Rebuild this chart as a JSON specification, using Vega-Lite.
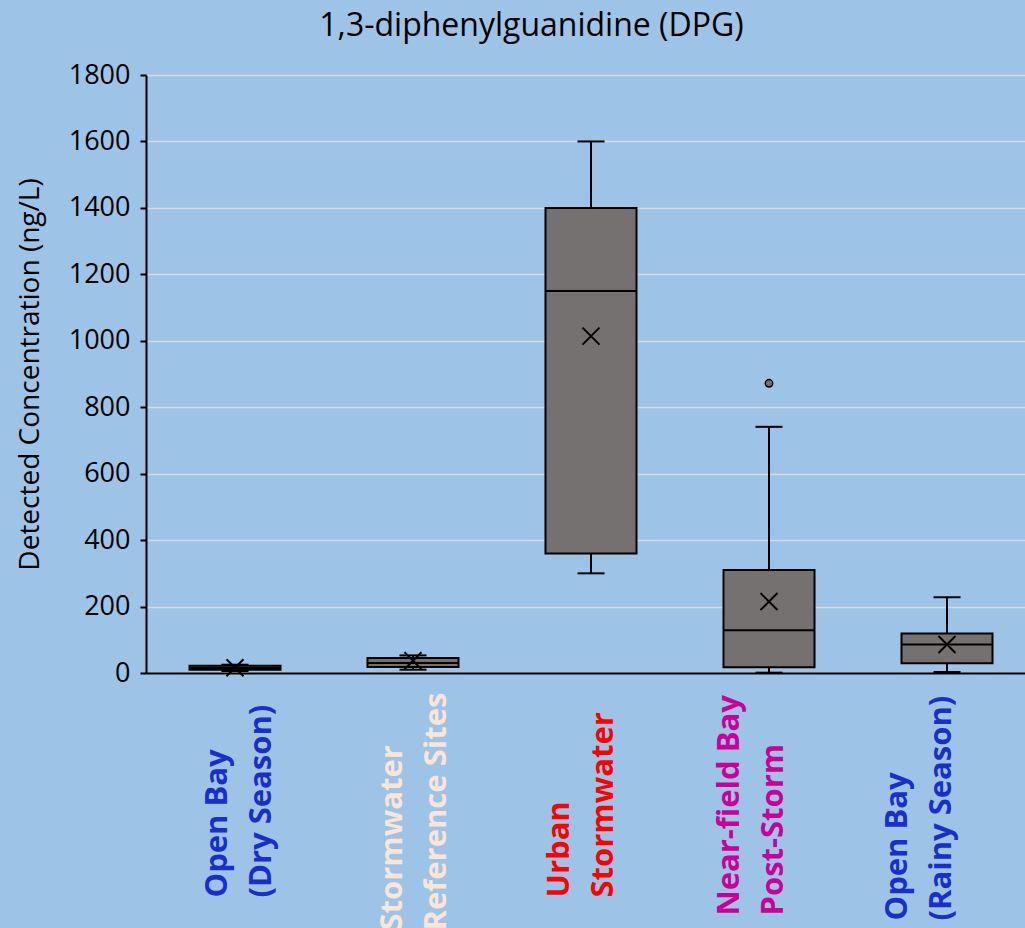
{
  "$schema": "https://vega.github.io/schema/vega-lite/v6.json",
  "autosize": "none",
  "padding": {"left": 146, "top": 75, "right": 0, "bottom": 255},
  "width": 879,
  "height": 598,
  "background": "#9DC3E6",
  "title": {
    "text": "1,3-diphenylguanidine (DPG)",
    "anchor": "middle",
    "frame": "group",
    "dx": -54,
    "baseline": "alphabetic",
    "offset": -7,
    "font": "Open Sans",
    "fontSize": 32,
    "fontWeight": "normal",
    "color": "#000000"
  },
  "config": {
    "view": {"stroke": null},
    "font": "Open Sans"
  },
  "data": {
    "values": [
      {"cat": "Open Bay|(Dry Season)", "min": 6, "q1": 10, "med": 15, "q3": 22, "max": 25, "mean": 16},
      {"cat": "Stormwater|Reference Sites", "min": 10, "q1": 18, "med": 30, "q3": 45, "max": 53, "mean": 37},
      {"cat": "Urban|Stormwater", "min": 300, "q1": 360, "med": 1150, "q3": 1400, "max": 1600, "mean": 1014},
      {"cat": "Near-field Bay|Post-Storm", "min": 1, "q1": 17, "med": 129, "q3": 310, "max": 741, "mean": 215},
      {"cat": "Open Bay|(Rainy Season)", "min": 3, "q1": 29, "med": 86, "q3": 119, "max": 228, "mean": 86}
    ]
  },
  "encoding": {
    "x": {
      "field": "cat",
      "type": "nominal",
      "sort": ["Open Bay|(Dry Season)", "Stormwater|Reference Sites", "Urban|Stormwater", "Near-field Bay|Post-Storm", "Open Bay|(Rainy Season)"],
      "scale": {"type": "band", "range": [0, 890], "paddingInner": 0, "paddingOuter": 0},
      "axis": {
        "title": null,
        "labelExpr": "split(datum.label, '|')",
        "labelAngle": -90,
        "labelAlign": "left",
        "labelBaseline": "middle",
        "labelFont": "Open Sans",
        "labelFontSize": 31,
        "labelFontWeight": "bold",
        "labelLineHeight": 44,
        "labelLimit": 0,
        "ticks": false,
        "tickSize": 0,
        "domainColor": "#000000",
        "domainWidth": 2,
        "grid": false,
        "labelColor": {
          "condition": [
            {"test": "datum.value === 'Stormwater|Reference Sites'", "value": "#FBE5D6"},
            {"test": "datum.value === 'Urban|Stormwater'", "value": "#FF0000"},
            {"test": "datum.value === 'Near-field Bay|Post-Storm'", "value": "#CC0099"}
          ],
          "value": "#1A2FC8"
        },
        "labelPadding": {
          "condition": [
            {"test": "datum.value === 'Stormwater|Reference Sites'", "value": 257},
            {"test": "datum.value === 'Near-field Bay|Post-Storm'", "value": 242},
            {"test": "datum.value === 'Open Bay|(Rainy Season)'", "value": 247}
          ],
          "value": 224
        },
        "labelOffset": {
          "condition": [
            {"test": "datum.value === 'Open Bay|(Dry Season)'", "value": -17},
            {"test": "datum.value === 'Stormwater|Reference Sites'", "value": -20},
            {"test": "datum.value === 'Urban|Stormwater'", "value": -31},
            {"test": "datum.value === 'Near-field Bay|Post-Storm'", "value": -39}
          ],
          "value": -49
        }
      }
    }
  },
  "layer": [
    {
      "mark": {"type": "rule", "color": "#000000", "strokeWidth": 2},
      "encoding": {
        "y": {
          "field": "min",
          "type": "quantitative",
          "scale": {"domain": [0, 1800], "nice": false},
          "axis": {
            "title": "Detected Concentration (ng/L)",
            "titleFont": "Open Sans",
            "titleFontSize": 28,
            "titleFontWeight": "normal",
            "titleColor": "#000000",
            "titlePadding": 24,
            "format": "d",
            "values": [0, 200, 400, 600, 800, 1000, 1200, 1400, 1600, 1800],
            "labelFont": "Open Sans",
            "labelFontSize": 27,
            "labelColor": "#000000",
            "labelPadding": 10,
            "tickSize": 6,
            "tickWidth": 2,
            "tickColor": "#000000",
            "domainColor": "#000000",
            "domainWidth": 2,
            "grid": true,
            "gridColor": "#D9D9D9",
            "gridWidth": 1.5
          }
        },
        "y2": {"field": "max"}
      }
    },
    {
      "mark": {"type": "bar", "width": 91, "fill": "#767171", "stroke": "#000000", "strokeWidth": 2},
      "encoding": {
        "y": {"field": "q1", "type": "quantitative"},
        "y2": {"field": "q3"}
      }
    },
    {
      "mark": {"type": "tick", "size": 91, "thickness": 2, "color": "#000000", "opacity": 1},
      "encoding": {
        "y": {"field": "med", "type": "quantitative"}
      }
    },
    {
      "mark": {"type": "tick", "size": 27, "thickness": 2, "color": "#000000", "opacity": 1},
      "encoding": {
        "y": {"field": "max", "type": "quantitative"}
      }
    },
    {
      "mark": {"type": "tick", "size": 27, "thickness": 2, "color": "#000000", "opacity": 1},
      "encoding": {
        "y": {"field": "min", "type": "quantitative"}
      }
    },
    {
      "mark": {"type": "point", "shape": "M-1,-1L1,1M-1,1L1,-1", "size": 289, "filled": false, "stroke": "#000000", "strokeWidth": 2, "opacity": 1},
      "encoding": {
        "y": {"field": "mean", "type": "quantitative"}
      }
    },
    {
      "data": {"values": [{"cat": "Near-field Bay|Post-Storm", "value": 872}]},
      "mark": {"type": "point", "shape": "circle", "size": 55, "filled": true, "fill": "#767171", "stroke": "#000000", "strokeWidth": 1.5, "opacity": 1},
      "encoding": {
        "y": {"field": "value", "type": "quantitative"}
      }
    }
  ]
}
